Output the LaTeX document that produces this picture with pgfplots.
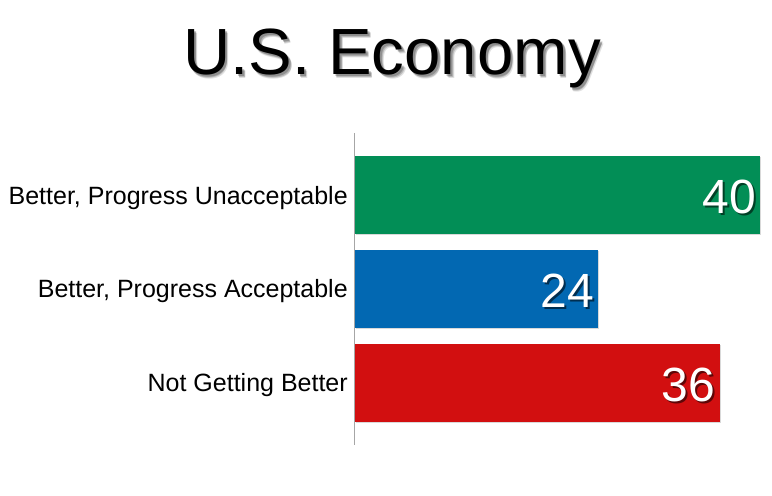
\documentclass[border=0pt]{standalone}
\usepackage{fontspec}
\setmainfont{Liberation Sans}
\usepackage{pgfplots}
\pgfplotsset{compat=1.18}
\usetikzlibrary{shadows}

\definecolor{barGreen}{RGB}{2,142,86}
\definecolor{barBlue}{RGB}{2,104,178}
\definecolor{barRed}{RGB}{210,15,16}

\begin{document}
\begin{tikzpicture}[x=1pt,y=1pt]
  % title, with a soft shadow under it
  \foreach \dx/\dy/\op in {2.5/-2.5/0.12, 2/-2/0.18, 1.5/-1.5/0.22}{
    \node[anchor=base, inner sep=0pt, text=black, text opacity=\op,
          font=\fontsize{49}{55}\selectfont] at (294+\dx,315.75+\dy) {U.S. Economy};
  }
  \node[anchor=base, inner sep=0pt, font=\fontsize{49}{55}\selectfont]
    at (294,315.75) {U.S. Economy};

  \begin{axis}[
    at={(266.25pt,38.25pt)}, anchor=south west,
    scale only axis, width=312.75pt, height=234pt,
    xmin=0, xmax=41.185,
    ymin=-0.66, ymax=2.66, y dir=reverse,
    axis x line=none,
    axis y line*=left,
    y axis line style={-, draw=black!35, line width=0.75pt},
    ytick={0,1,2},
    yticklabels={{Better, Progress Unacceptable},{Better, Progress Acceptable},{Not Getting Better}},
    major tick length=0pt,
    yticklabel style={font=\fontsize{18.75}{22}\selectfont, inner sep=0pt,
      anchor=base east, xshift=-5.25pt, yshift=-6.75pt},
    /pgf/number format/assume math mode=true,
    xbar, bar width=58.5pt, bar shift=0pt,
    clip=false,
  ]
  % bars
  \addplot[fill=barGreen, draw=none, drop shadow={shadow xshift=1pt, shadow yshift=-1pt, opacity=0.3}]
    coordinates {(40,0)};
  \addplot[fill=barBlue, draw=none, drop shadow={shadow xshift=1pt, shadow yshift=-1pt, opacity=0.3}]
    coordinates {(24,1)};
  \addplot[fill=barRed, draw=none, drop shadow={shadow xshift=1pt, shadow yshift=-1pt, opacity=0.3}]
    coordinates {(36,2)};

  % value labels: dark shadow first, then white
  \addplot[draw=none, fill=none, nodes near coords,
    every node near coord/.append style={anchor=east, inner sep=0pt, xshift=-1.5pt, yshift=-3pt,
      text=black, text opacity=0.55, font=\fontsize{36}{40}\selectfont}]
    coordinates {(40,0) (24,1) (36,2)};
  \addplot[draw=none, fill=none, nodes near coords,
    every node near coord/.append style={anchor=east, inner sep=0pt, xshift=-3pt, yshift=-1.5pt,
      text=white, font=\fontsize{36}{40}\selectfont}]
    coordinates {(40,0) (24,1) (36,2)};
  \end{axis}

  \pgfresetboundingbox
  \useasboundingbox (0,0) rectangle (579,372);
\end{tikzpicture}
\end{document}
